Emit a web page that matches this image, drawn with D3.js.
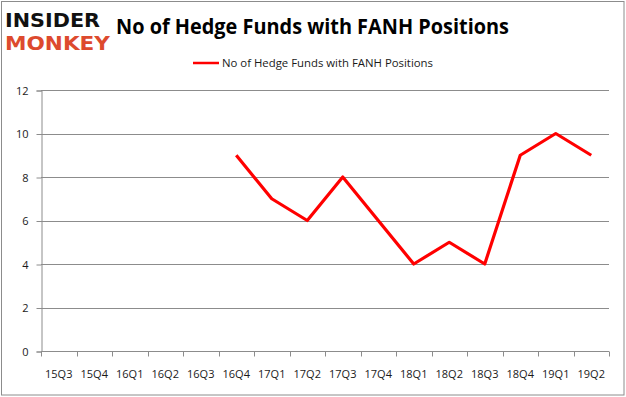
<!DOCTYPE html>
<html>
<head>
<meta charset="utf-8">
<script src="https://cdn.jsdelivr.net/npm/d3@7"></script>
<style>
  body { margin: 0; background: #fff; }
  text { font-family: "Open Sans", "Liberation Sans", sans-serif; }
</style>
</head>
<body>
<div id="chart"></div>
<script>
var w = 626,
  h = 397;

// chart data
var quarters = ["15Q3", "15Q4", "16Q1", "16Q2", "16Q3", "16Q4", "17Q1", "17Q2",
  "17Q3", "17Q4", "18Q1", "18Q2", "18Q3", "18Q4", "19Q1", "19Q2"];
var funds = [null, null, null, null, null, 9, 7, 6, 8, 6, 4, 5, 4, 9, 10, 9];
var yTicks = [0, 2, 4, 6, 8, 10, 12];
var seriesName = "No of Hedge Funds with FANH Positions";
var titleText = "No of Hedge Funds with FANH Positions";

var margin = {left: 41, right: 609, top: 90, bottom: 351};

var svg = d3.select("#chart").append("svg").attr("width", w).attr("height", h);

// outer frame
svg.append("rect").attr("x", 1.5).attr("y", 1.5).attr("width", 622.5).attr("height", 393.5)
  .attr("fill", "none").attr("stroke", "#8c8c8c").attr("stroke-width", 1);

var x = d3.scaleBand().domain(quarters).range([margin.left, margin.right]);
var y = d3.scaleLinear().domain([0, 12]).range([margin.bottom, margin.top]);

// gridlines
svg.append("g").selectAll("line").data(yTicks.filter(function(d) { return d > 0; })).enter()
  .append("line")
  .attr("x1", margin.left).attr("x2", margin.right)
  .attr("y1", function(d) { return Math.round(y(d)) + 0.5; })
  .attr("y2", function(d) { return Math.round(y(d)) + 0.5; })
  .attr("stroke", "#8c8c8c").attr("stroke-width", 1);

// y axis
var yAxis = svg.append("g").attr("transform", "translate(" + (margin.left + 0.5) + ",0.5)")
  .call(d3.axisLeft(y).tickValues(yTicks).tickSize(5).tickPadding(8));
yAxis.selectAll("path, line").attr("stroke", "#8c8c8c");
yAxis.selectAll("text").attr("font-size", 11).attr("fill", "#1a1a1a")
  .style("font-family", "'Open Sans', sans-serif");

// x axis: ticks on category boundaries
var xAxis = svg.append("g").attr("transform", "translate(0," + (margin.bottom + 0.5) + ")");
xAxis.append("line").attr("x1", margin.left).attr("x2", margin.right)
  .attr("stroke", "#8c8c8c");
xAxis.selectAll(".tk").data(quarters.concat(["end"])).enter().append("line")
  .attr("class", "tk")
  .attr("x1", function(d, i) { return Math.round(margin.left + i * x.step()) + 0.5; })
  .attr("x2", function(d, i) { return Math.round(margin.left + i * x.step()) + 0.5; })
  .attr("y1", 0).attr("y2", 5).attr("stroke", "#8c8c8c");
xAxis.selectAll(".lbl").data(quarters).enter().append("text")
  .attr("class", "lbl")
  .attr("x", function(d) { return x(d) + x.bandwidth() / 2; })
  .attr("y", 26)
  .attr("text-anchor", "middle")
  .attr("font-size", 11).attr("fill", "#1a1a1a")
  .text(function(d) { return d; });

// line
var line = d3.line()
  .defined(function(d) { return d != null; })
  .x(function(d, i) { return x(quarters[i]) + x.bandwidth() / 2; })
  .y(function(d) { return y(d); });

svg.append("path").datum(funds).attr("d", line)
  .attr("fill", "none").attr("stroke", "#ff0000").attr("stroke-width", 3.2)
  .attr("stroke-linejoin", "round");

// legend
svg.append("line").attr("x1", 193).attr("x2", 219).attr("y1", 63).attr("y2", 63)
  .attr("stroke", "#ff0000").attr("stroke-width", 2.5);
svg.append("text").attr("x", 222).attr("y", 67).attr("font-size", 11.5).attr("fill", "#1a1a1a")
  .attr("textLength", 211).attr("lengthAdjust", "spacingAndGlyphs")
  .text(seriesName);

// title
svg.append("text").attr("x", 116).attr("y", 34).attr("font-size", 22).attr("font-weight", "bold")
  .attr("fill", "#000").attr("textLength", 393).attr("lengthAdjust", "spacingAndGlyphs")
  .text(titleText);

// logo
svg.append("text").attr("x", 5).attr("y", 27).attr("font-size", 19).attr("font-weight", "bold")
  .style("font-family", "'DejaVu Sans', sans-serif")
  .attr("fill", "#111").attr("textLength", 95).attr("lengthAdjust", "spacingAndGlyphs")
  .text("INSIDER");
svg.append("text").attr("x", 5).attr("y", 50).attr("font-size", 19).attr("font-weight", "bold")
  .style("font-family", "'DejaVu Sans', sans-serif")
  .attr("fill", "#dd4a2e").attr("textLength", 105).attr("lengthAdjust", "spacingAndGlyphs")
  .text("MONKEY");
</script>
</body>
</html>
